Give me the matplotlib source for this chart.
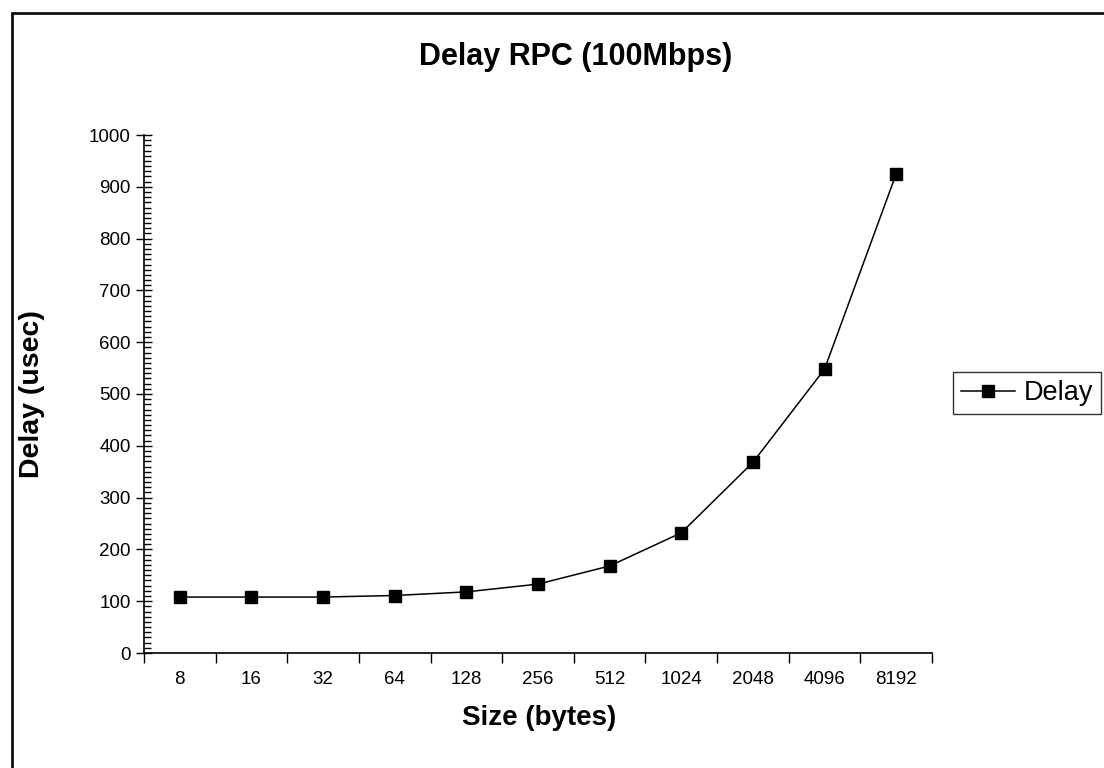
import numpy as np
import matplotlib.pyplot as plt
from matplotlib.patches import Rectangle

# tamaños de mensaje (bytes) y retardo medido (usec)
sizes = ['8', '16', '32', '64', '128', '256', '512', '1024', '2048', '4096', '8192']
delay = [108, 108, 108, 111, 118, 133, 168, 232, 368, 548, 925]

plt.rcParams['font.family'] = ['Liberation Sans', 'DejaVu Sans']

W, H = 1104, 768
fig = plt.figure(figsize=(W / 100, H / 100), dpi=100)
ax = fig.add_axes([144 / W, (H - 653) / H, (932 - 144) / W, (653 - 135) / H])

x = np.arange(len(sizes))
ax.plot(x, delay, color='black', lw=1.1, marker='s', markersize=9,
        markerfacecolor='black', markeredgecolor='black', label='Delay')

# eje X de categorias: marcas entre categorias, etiquetas centradas
ax.set_xlim(-0.5, len(sizes) - 0.5)
ax.set_xticks(np.arange(-0.5, len(sizes), 1.0))
ax.set_xticklabels([])
ax.set_xticks(x, minor=True)
ax.set_xticklabels(sizes, minor=True)
ax.tick_params(axis='x', which='major', direction='out', length=7, width=1)
ax.tick_params(axis='x', which='minor', length=0, pad=13, labelsize=13.5)

ax.set_ylim(0, 1000)
ax.set_yticks(np.arange(0, 1001, 100))
ax.set_yticks(np.arange(0, 1001, 10), minor=True)
ax.tick_params(axis='y', which='major', direction='inout', length=12, width=1, labelsize=13.5)
ax.tick_params(axis='y', which='minor', direction='in', length=5, width=1)

for s in ['top', 'right']:
    ax.spines[s].set_visible(False)
for s in ['left', 'bottom']:
    ax.spines[s].set_linewidth(1.2)

ax.set_xlabel('Size (bytes)', fontsize=20, fontweight='bold')
ax.xaxis.set_label_coords(0.502, -0.125)
ax.xaxis.label.set_va('center')
ax.set_ylabel('Delay (usec)', fontsize=20.5, fontweight='bold')
ax.yaxis.set_label_coords(-0.142, 0.5)
ax.yaxis.label.set_va('center')

fig.text(576 / W, (H - 57) / H, 'Delay RPC (100Mbps)', ha='center', va='center',
         fontsize=22, fontweight='bold')

leg = fig.legend(loc='upper left', bbox_to_anchor=(953 / W, (H - 372) / H),
                 fontsize=19.5, handlelength=2.0, frameon=True, fancybox=False,
                 borderpad=0.3, borderaxespad=0, handletextpad=0.3)
leg.get_frame().set_edgecolor('black')
leg.get_frame().set_linewidth(1)

# marco del grafico
fig.patches.append(Rectangle((11.5, -10), W, H - 12.5 + 10, transform=None,
                             fill=False, edgecolor='#111111', lw=2, clip_on=False))

fig.savefig('out.png', dpi=100)
